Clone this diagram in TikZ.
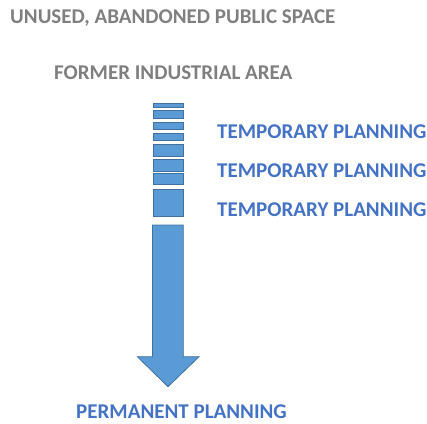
\documentclass[tikz,border=0pt]{standalone}
\usepackage{fontspec}
\setmainfont{Carlito}[BoldFont={Carlito Bold}]
\definecolor{grayt}{HTML}{7F7F7F}
\definecolor{bluet}{HTML}{4472C4}
\definecolor{fillb}{HTML}{5B9BD5}
\definecolor{edgeb}{HTML}{41719C}
\begin{document}
\begin{tikzpicture}[x=1pt,y=-1pt,
  graytext/.style={text=grayt,font=\bfseries\fontsize{21}{24}\selectfont,inner sep=0pt,anchor=west},
  bluetext/.style={text=bluet,font=\bfseries\fontsize{21}{24}\selectfont,inner sep=0pt,anchor=west},
  bar/.style={draw=edgeb,fill=fillb,line width=1pt}]
\useasboundingbox (0,0) rectangle (427,423);
\node[graytext] (t1) at (10,18) {UNUSED, ABANDONED PUBLIC SPACE};
\node[graytext] (t2) at (54,73) {FORMER INDUSTRIAL AREA};
\draw[bar] (153,103) rectangle (183,107.3);
\draw[bar] (153,110) rectangle (183,118);
\draw[bar] (153,122.7) rectangle (183,129.7);
\draw[bar] (153,133.3) rectangle (183,140.7);
\draw[bar] (153,144.7) rectangle (183,156.3);
\draw[bar] (153,159.7) rectangle (183,171);
\draw[bar] (153,173) rectangle (183,184.3);
\draw[bar] (153,189) rectangle (183,216.7);
\draw[bar,line width=0.8pt] (152.5,225) -- (183.3,225) -- (183.3,356.7) -- (199,356.7) -- (168,386.7) -- (137.3,356.7) -- (152.5,356.7) -- cycle;
\node[bluetext] (p1) at (217,132) {TEMPORARY PLANNING};
\node[bluetext] (p2) at (217,171) {TEMPORARY PLANNING};
\node[bluetext] (p3) at (217,210) {TEMPORARY PLANNING};
\node[bluetext] (pm) at (76,412) {PERMANENT PLANNING};
\end{tikzpicture}
\end{document}
